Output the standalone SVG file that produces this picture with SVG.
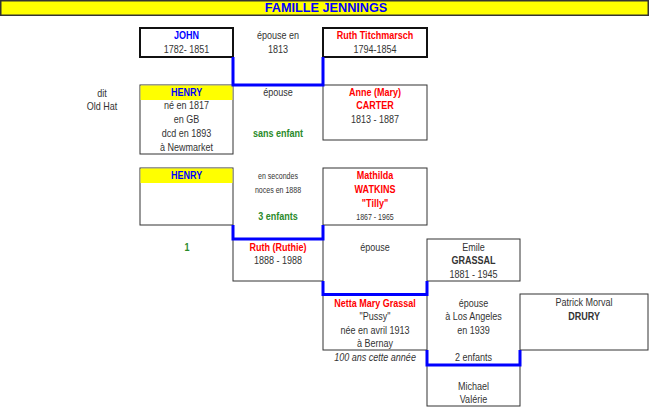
<svg xmlns="http://www.w3.org/2000/svg" width="650" height="411" viewBox="0 0 650 411">
<style>
text{font-family:"Liberation Sans",Arial,sans-serif;font-size:10.5px;fill:#333;text-anchor:middle;transform-box:fill-box;transform-origin:center;transform:scaleX(0.86)}
.title{font-size:12.7px;transform:none}
.b{font-weight:bold}
.blue{fill:#0000ff;font-weight:bold}
.red{fill:#ff0000;font-weight:bold}
.green{fill:#2a8a2a;font-weight:bold}
.sm{font-size:8.2px}
.it{font-style:italic}
.box{fill:#fff;stroke:#333;stroke-width:1}
.thick{fill:#fff;stroke:#111;stroke-width:2}
.hdr{fill:#ffff00;stroke:none}
.link{fill:none;stroke:#0000ff;stroke-width:3}
</style>
<rect width="650" height="411" fill="#fff"/>
<g id="title">
<rect x="0.75" y="0.75" width="647.5" height="14.5" fill="#ffff00" stroke="#333" stroke-width="1.5"/>
<text x="326" y="11.5" class="blue title">FAMILLE JENNINGS</text>
</g>
<g id="john">
<rect x="140" y="28" width="93" height="29" class="thick"/>
<text x="186.5" y="39.5" class="blue">JOHN</text>
<text x="186.5" y="53">1782- 1851</text>
</g>
<g id="marriage1">
<text x="278" y="39.5">épouse en</text>
<text x="278" y="53">1813</text>
</g>
<g id="ruth-titchmarsch">
<rect x="323" y="28" width="104" height="29" class="thick"/>
<text x="375" y="39.5" class="red">Ruth Titchmarsch</text>
<text x="375" y="53">1794-1854</text>
</g>
<g id="dit">
<text x="102" y="96.7">dit</text>
<text x="102" y="110">Old Hat</text>
</g>
<g id="henry1">
<rect x="140" y="85" width="93" height="69" class="box"/>
<rect x="140.5" y="85.5" width="92" height="14.5" class="hdr"/>
<text x="186.5" y="96" class="blue">HENRY</text>
<text x="186.5" y="109.5">né en 1817</text>
<text x="186.5" y="123.2">en GB</text>
<text x="186.5" y="136.9">dcd en 1893</text>
<text x="186.5" y="150.6">à Newmarket</text>
</g>
<g id="marriage2">
<text x="278" y="96">épouse</text>
<text x="278" y="136.9" class="green">sans enfant</text>
</g>
<g id="anne">
<rect x="323" y="85" width="104" height="55" class="box"/>
<text x="375" y="96" class="red">Anne (Mary)</text>
<text x="375" y="109.5" class="red">CARTER</text>
<text x="375" y="123.2">1813 - 1887</text>
</g>
<g id="henry2">
<rect x="140" y="168" width="93" height="57" class="box"/>
<rect x="140.5" y="168.5" width="92" height="14.5" class="hdr"/>
<text x="186.5" y="179.3" class="blue">HENRY</text>
</g>
<g id="marriage3">
<text x="278" y="179.3" class="sm">en secondes</text>
<text x="278" y="193" class="sm">noces en 1888</text>
<text x="278" y="220.3" class="green">3 enfants</text>
</g>
<g id="mathilda">
<rect x="323" y="168" width="104" height="57" class="box"/>
<text x="375" y="179.3" class="red">Mathilda</text>
<text x="375" y="193" class="red">WATKINS</text>
<text x="375" y="206.7" class="red">"Tilly"</text>
<text x="375" y="220.3" class="sm">1867 - 1965</text>
</g>
<g id="count1">
<text x="187" y="251" class="green">1</text>
</g>
<g id="ruthie">
<rect x="233" y="239" width="90" height="42" class="box"/>
<text x="278" y="251" class="red">Ruth (Ruthie)</text>
<text x="278" y="264.3">1888 - 1988</text>
</g>
<g id="marriage4">
<text x="375" y="251">épouse</text>
</g>
<g id="emile">
<rect x="427" y="239" width="93" height="42" class="box"/>
<text x="473.5" y="251">Emile</text>
<text x="473.5" y="264.3" class="b">GRASSAL</text>
<text x="473.5" y="277.6">1881 - 1945</text>
</g>
<g id="netta">
<rect x="323" y="294" width="104" height="56" class="box"/>
<text x="375" y="307" class="red">Netta Mary Grassal</text>
<text x="375" y="320.3">"Pussy"</text>
<text x="375" y="333.6">née en avril 1913</text>
<text x="375" y="347.1">à Bernay</text>
<text x="375" y="360.8" class="it">100 ans cette année</text>
</g>
<g id="marriage5">
<text x="473.5" y="307">épouse</text>
<text x="473.5" y="320.3">à Los Angeles</text>
<text x="473.5" y="333.6">en 1939</text>
<text x="473.5" y="360.8">2 enfants</text>
</g>
<g id="patrick">
<rect x="520" y="294" width="128" height="56" class="box"/>
<text x="584" y="306.5">Patrick Morval</text>
<text x="584" y="319.8" class="b">DRURY</text>
</g>
<g id="children">
<rect x="427" y="365" width="93" height="41" class="box"/>
<text x="473.5" y="389.6">Michael</text>
<text x="473.5" y="403">Valérie</text>
</g>
<g id="connectors">
<path class="link" d="M233,57 V85 H323 V57"/>
<path class="link" d="M233,225 V239 H323 V225"/>
<path class="link" d="M323,281 V294.5 H427 V281"/>
<path class="link" d="M427,350 V365 H520 V350"/>
</g>
</svg>
